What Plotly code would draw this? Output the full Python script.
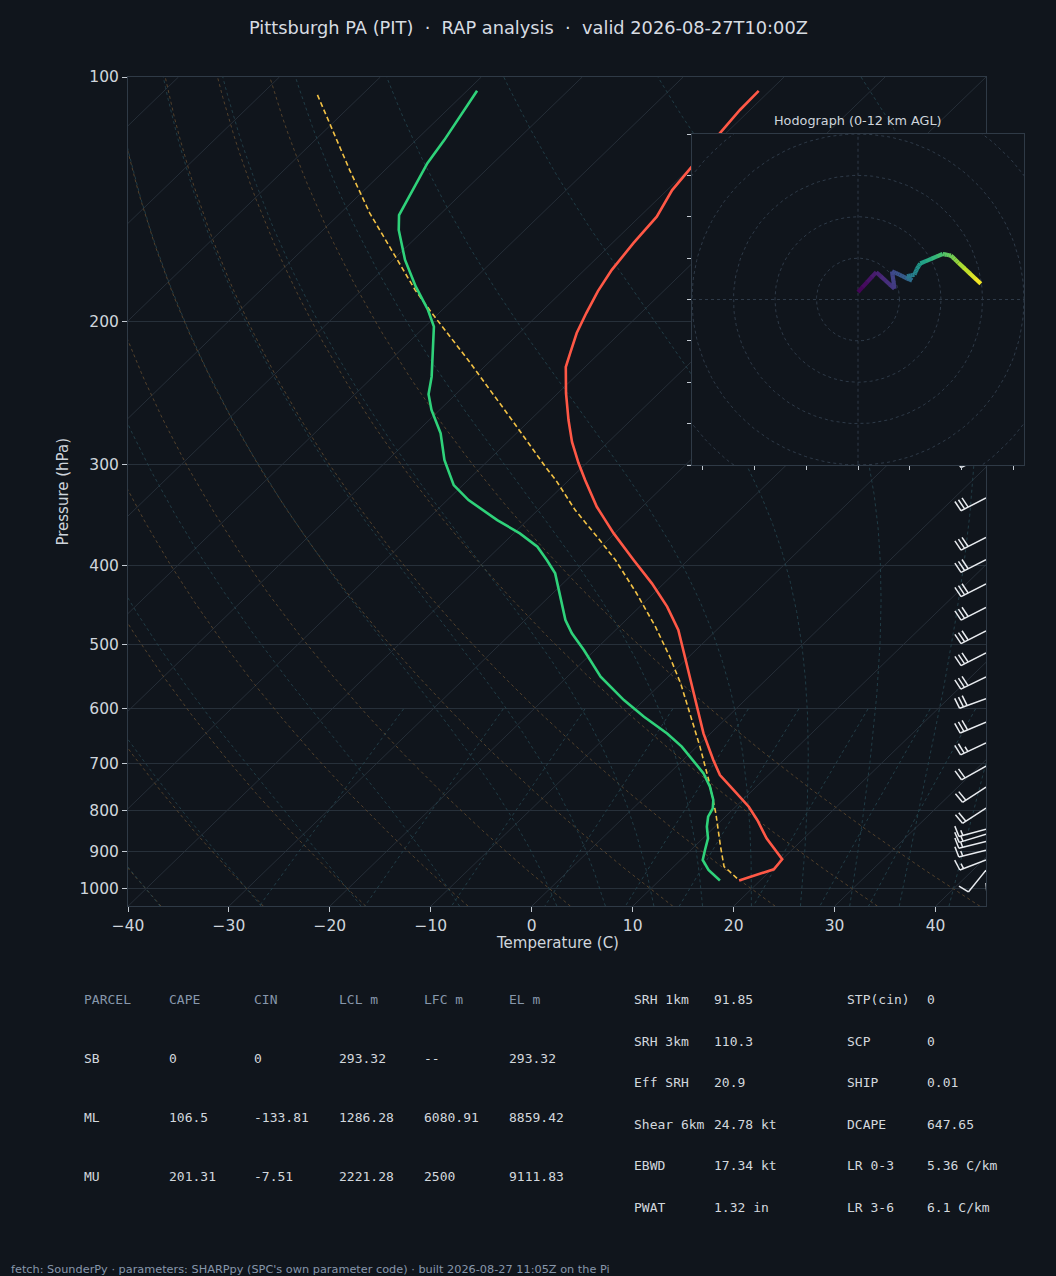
import numpy as np
import plotly.graph_objects as go
from plotly.colors import sample_colorscale

W, H = 1056, 1276
BG = "#10151c"
FONT = "DejaVu Sans"
MONO = "DejaVu Sans Mono"

TITLE = "Pittsburgh PA (PIT)  ·  RAP analysis  ·  valid 2026-08-27T10:00Z"
FOOTER = "fetch: SounderPy · parameters: SHARPpy (SPC's own parameter code) · built 2026-08-27 11:05Z on the Pi"

# ---------------- data ----------------
temp_p = [104.0, 109.8, 117.2, 129.0, 137.8, 148.6, 160.1, 172.8, 183.5, 195.3, 206.7, 218.7,
          227.6, 245.1, 264.5, 281.5, 298.8, 313.6, 325.4, 338.3, 351.3, 364.8, 393.4, 420.3,
          449.0, 479.7, 517.6, 574.1, 643.3, 693.7, 723.9, 755.3, 791.9, 822.3, 866.1, 919.2,
          945.6, 976.0]
temp_c = [-61.1, -61.0, -60.6, -60.0, -59.5, -58.3, -57.9, -57.3, -56.5, -55.4, -54.3, -52.9,
          -51.9, -49.2, -46.2, -43.6, -40.8, -38.4, -36.5, -34.5, -32.3, -30.1, -25.4, -21.2,
          -17.3, -13.8, -10.4, -5.8, -0.7, 3.0, 5.2, 8.1, 11.3, 13.5, 16.3, 20.0,
          20.2, 17.9]

dwpt_p = [104.0, 119.6, 127.7, 147.9, 154.3, 168.0, 181.2, 193.6, 203.0, 233.9, 245.9, 257.1,
          274.7, 296.2, 318.1, 331.9, 351.3, 364.8, 378.8, 393.4, 408.6, 436.5, 466.4, 484.3,
          507.8, 547.8, 585.3, 613.6, 643.3, 667.8, 693.7, 720.4, 748.2, 777.0, 795.5, 814.7,
          838.1, 866.1, 895.3, 921.1, 947.6, 976.0]
dwpt_c = [-89.0, -87.2, -86.5, -84.0, -82.5, -78.8, -75.0, -71.4, -69.1, -64.2, -62.7, -60.8,
          -57.5, -54.4, -50.9, -47.9, -43.0, -39.4, -36.3, -34.0, -31.8, -28.9, -26.0, -24.0,
          -21.1, -16.7, -12.0, -8.3, -4.3, -1.5, 1.0, 3.4, 5.4, 7.1, 7.9, 8.3,
          9.2, 10.5, 11.4, 12.2, 13.8, 16.0]

parcel_p = [105.2, 130.2, 147.1, 166.4, 183.0, 195.3, 223.1, 264.5, 302.0, 313.6, 341.5, 368.3,
            393.4, 432.3, 475.3, 517.6, 558.1, 607.8, 667.8, 734.2, 806.6, 886.9, 938.7, 952.2,
            976.0]
parcel_c = [-104.4, -93.5, -87.1, -80.1, -74.7, -70.7, -62.3, -51.8, -43.7, -41.3, -36.3, -31.4,
            -27.2, -21.7, -16.4, -11.9, -8.1, -4.1, 0.3, 4.6, 8.7, 12.6, 15.0, 16.1,
            17.9]

barb_p = [983, 948, 921, 896, 874, 856, 844, 795, 749, 706, 661, 623, 583, 548, 512, 481,
          450, 421, 393, 369, 330, 292]
barb_dir = [175, 219, 249, 256, 256, 253, 255, 237, 237, 241, 245, 247, 250, 244, 243, 243,
            243, 243, 243, 243, 243, 243]
barb_kt = [5, 10, 15, 15, 15, 15, 15, 20, 20, 20, 25, 30, 30, 30, 30, 30,
           30, 30, 30, 30, 30, 30]

hodo_u = [0.0, 4.4, 8.8, 8.2, 10.0, 12.4, 13.0, 11.8, 13.6, 14.2, 15.0, 20.4, 22.4, 24.2, 29.6]
hodo_v = [1.8, 6.6, 2.6, 6.8, 6.0, 4.8, 4.6, 5.6, 6.0, 7.4, 8.7, 11.0, 10.6, 8.9, 3.8]
hodo_km = [0.0, 1.0, 2.0, 2.6, 3.2, 4.0, 4.3, 4.7, 5.3, 6.0, 6.6, 8.6, 9.3, 10.2, 12.0]

x_ticks = [-40, -30, -20, -10, 0, 10, 20, 30, 40]
p_ticks = [100, 200, 300, 400, 500, 600, 700, 800, 900, 1000]

tbl1_head = ["PARCEL", "CAPE", "CIN", "LCL m", "LFC m", "EL m"]
tbl1_rows = [["SB", "0", "0", "293.32", "--", "293.32"],
             ["ML", "106.5", "-133.81", "1286.28", "6080.91", "8859.42"],
             ["MU", "201.31", "-7.51", "2221.28", "2500", "9111.83"]]
tbl2_lab = ["SRH 1km", "SRH 3km", "Eff SRH", "Shear 6km", "EBWD", "PWAT"]
tbl2_val = ["91.85", "110.3", "20.9", "24.78 kt", "17.34 kt", "1.32 in"]
tbl3_lab = ["STP(cin)", "SCP", "SHIP", "DCAPE", "LR 0-3", "LR 3-6"]
tbl3_val = ["0", "0", "0.01", "647.65", "5.36 C/km", "6.1 C/km"]

# ---------------- geometry ----------------
XMIN, XMAX = -40.0, 45.0
PBOT, PTOP = 1050.0, 100.0
LOGB, LOGT = np.log10(PBOT), np.log10(PTOP)
SKEW = XMAX - XMIN
AX_L, AX_R, AX_T, AX_B = 128, 986, 77, 906.2
HX_L, HX_R, HX_T, HX_B = 692, 1024, 134, 465
PXX = (AX_R - AX_L) / (XMAX - XMIN)
PXD = (AX_B - AX_T) / (LOGB - LOGT)


def ya(p):
    return (LOGB - np.log10(np.asarray(p, dtype=float))) / (LOGB - LOGT)


def sx(t, p):
    return np.asarray(t, dtype=float) + SKEW * ya(p)


fig = go.Figure()


def add_lines(xs, ys, color, width, dash="solid", xa="x", ya_="y", opacity=1.0):
    fig.add_trace(go.Scatter(x=xs, y=ys, mode="lines", xaxis=xa, yaxis=ya_,
                             line=dict(color=color, width=width, dash=dash),
                             opacity=opacity, hoverinfo="skip", showlegend=False))


# isotherms
xs, ys = [], []
for t in range(-140, 50, 10):
    pp = np.array([PBOT, PTOP])
    xs += list(sx([t, t], pp)) + [None]
    ys += list(pp) + [None]
add_lines(xs, ys, "#28313b", 0.9)

pl = np.linspace(PBOT, PTOP, 160)

# dry adiabats
xs, ys = [], []
for t0 in np.arange(XMIN, XMAX + 1, 10):
    tt = (t0 + 273.15) * (pl / 1000.0) ** 0.28571 - 273.15
    xs += list(sx(tt, pl)) + [None]
    ys += list(pl) + [None]
add_lines(xs, ys, "#5a462e", 0.9, "3px,3px")

# moist adiabats
Rd, Cp, Lv, EPS = 287.04749, 1004.6662, 2.50084e6, 0.6219569


def es(tk):
    return 6.112 * np.exp(17.67 * (tk - 273.15) / (tk - 29.65))


def dtdp(p, tk):
    e = es(tk)
    rs = EPS * e / (p - e)
    return (Rd * tk + Lv * rs) / (Cp + Lv * Lv * rs * EPS / (Rd * tk * tk)) / p


def moist(t0):
    def integ(p0, p1, n):
        ps = np.linspace(p0, p1, n)
        out = [t0 + 273.15]
        for i in range(n - 1):
            h = ps[i + 1] - ps[i]
            p, t = ps[i], out[-1]
            k1 = dtdp(p, t)
            k2 = dtdp(p + h / 2, t + h / 2 * k1)
            k3 = dtdp(p + h / 2, t + h / 2 * k2)
            k4 = dtdp(p + h, t + h * k3)
            out.append(t + h / 6 * (k1 + 2 * k2 + 2 * k3 + k4))
        return ps, np.array(out)
    pu, tu = integ(1000.0, PTOP, 300)
    pd, td = integ(1000.0, PBOT, 20)
    p = np.concatenate([pd[::-1], pu[1:]])
    t = np.concatenate([td[::-1], tu[1:]]) - 273.15
    return p, t


xs, ys = [], []
for t0 in list(np.arange(XMIN, 0, 10)) + list(np.arange(0, XMAX + 1, 5)):
    p, t = moist(t0)
    xs += list(sx(t, p)) + [None]
    ys += list(p) + [None]
add_lines(xs, ys, "#22414b", 0.9, "3px,3px")

# mixing ratio lines
xs, ys = [], []
pm = np.linspace(600, PBOT, 40)
for w in [0.0004, 0.001, 0.002, 0.004, 0.007, 0.01, 0.016, 0.024, 0.032]:
    e = pm * w / (EPS + w)
    lg = np.log(e / 6.112)
    td = 243.5 * lg / (17.67 - lg)
    xs += list(sx(td, pm)) + [None]
    ys += list(pm) + [None]
add_lines(xs, ys, "#24424c", 0.9, "3px,3px")

# profiles
add_lines(list(sx(parcel_c, parcel_p)), parcel_p, "#f3c245", 1.6, "5px,3px")
add_lines(list(sx(dwpt_c, dwpt_p)), dwpt_p, "#2fd27a", 2.6)
add_lines(list(sx(temp_c, temp_p)), temp_p, "#ff5846", 2.6)

# wind barbs (drawn at the right edge of the axes)
LEN, FLEN, SPC = 28.0, 11.0, 4.0
bx, by = [], []
for p, d, s in zip(barb_p, barb_dir, barb_kt):
    r = np.deg2rad(d)
    ux, uy = np.sin(r), np.cos(r)
    nx, ny = uy, -ux

    def to_data(ox, oy, p=p):
        return XMAX + ox / PXX, p * 10 ** (-oy / PXD)

    segs = [((0.0, 0.0), (LEN * ux, LEN * uy))]
    s5 = int(round(s / 5.0)) * 5
    nfull, half = s5 // 10, (s5 % 10) == 5
    pos = LEN
    for i in range(nfull):
        a = (pos * ux, pos * uy)
        b = (a[0] + FLEN * (nx + 0.12 * ux), a[1] + FLEN * (ny + 0.12 * uy))
        segs.append((a, b))
        pos -= SPC
    if half:
        if nfull == 0:
            pos -= SPC
        a = (pos * ux, pos * uy)
        b = (a[0] + 0.5 * FLEN * (nx + 0.12 * ux), a[1] + 0.5 * FLEN * (ny + 0.12 * uy))
        segs.append((a, b))
    for a, b in segs:
        xa_, ya1 = to_data(*a)
        xb_, yb1 = to_data(*b)
        bx += [xa_, xb_, None]
        by += [ya1, yb1, None]
add_lines(bx, by, "#e9ecf0", 1.5)

# ---------------- hodograph ----------------
th = np.linspace(0, 2 * np.pi, 200)
xs, ys = [], []
for rr in [10, 20, 30, 40, 50]:
    xs += list(rr * np.cos(th)) + [None]
    ys += list(rr * np.sin(th)) + [None]
add_lines(xs, ys, "#2e3a48", 1.0, "3px,3px", "x2", "y2")
add_lines([-60, 60, None, 0, 0], [0, 0, None, -60, 60], "#2e3a48", 1.0, "3px,3px", "x2", "y2")

hu, hv, hk = np.array(hodo_u), np.array(hodo_v), np.array(hodo_km)
for i in range(len(hu) - 1):
    nseg = 4
    for j in range(nseg):
        f0, f1 = j / nseg, (j + 1) / nseg
        u0 = hu[i] + (hu[i + 1] - hu[i]) * f0
        u1 = hu[i] + (hu[i + 1] - hu[i]) * min(f1 + 0.02, 1.0)
        v0 = hv[i] + (hv[i + 1] - hv[i]) * f0
        v1 = hv[i] + (hv[i + 1] - hv[i]) * min(f1 + 0.02, 1.0)
        km = hk[i] + (hk[i + 1] - hk[i]) * (f0 + f1) / 2
        col = sample_colorscale("Viridis", [km / 12.0])[0]
        add_lines([u0, u1], [v0, v1], col, 4.2, "solid", "x2", "y2")

# ---------------- layout ----------------
TICKF = dict(family=FONT, size=15.5, color="#cfd5dc")
FRAME = "#2f3a46"
fig.update_layout(
    width=W, height=H, margin=dict(l=0, r=0, t=0, b=0, pad=0), autosize=False,
    paper_bgcolor=BG, plot_bgcolor=BG, showlegend=False,
    xaxis=dict(domain=[AX_L / W, AX_R / W], range=[XMIN, XMAX], anchor="y", automargin=False,
               tickvals=x_ticks, ticktext=[str(v).replace("-", "\u2212") for v in x_ticks],
               showgrid=False, zeroline=False, showline=True, linecolor=FRAME, linewidth=1,
               mirror=True, ticks="outside", ticklen=5, tickcolor="#c3cad2", tickfont=TICKF),
    yaxis=dict(domain=[1 - AX_B / H, 1 - AX_T / H], type="log", range=[LOGB, LOGT], anchor="x",
               automargin=False, tickvals=p_ticks, ticktext=[str(v) for v in p_ticks],
               showgrid=True, gridcolor="#27303a", gridwidth=1, zeroline=False,
               showline=True, linecolor=FRAME, linewidth=1, mirror=True,
               ticks="outside", ticklen=5, tickcolor="#c3cad2", tickfont=TICKF),
    xaxis2=dict(domain=[HX_L / W, HX_R / W], range=[-40, 40], anchor="y2", automargin=False,
                tickvals=[-37.5, -25, -12.5, 0, 12.5, 25, 37.5], showticklabels=False,
                showgrid=False, zeroline=False, showline=True, linecolor=FRAME, mirror=True,
                ticks="outside", ticklen=4, tickcolor="#c3cad2"),
    yaxis2=dict(domain=[1 - HX_B / H, 1 - HX_T / H], range=[-40, 40], anchor="x2", automargin=False,
                tickvals=[-40, -30, -20, -10, 0, 10, 20, 30, 40], showticklabels=False,
                showgrid=False, zeroline=False, showline=True, linecolor=FRAME, mirror=True,
                ticks="outside", ticklen=4, tickcolor="#c3cad2"),
)

ann = []


def text(s, px, py, size, color, family=FONT, xanchor="left", angle=0):
    if xanchor == "left":
        px -= 2
    ann.append(dict(text=s, x=px / W, y=1 - py / H, xref="paper", yref="paper",
                    xanchor=xanchor, yanchor="middle", showarrow=False, textangle=angle,
                    font=dict(family=family, size=size, color=color)))


text(TITLE, W / 2, 27, 17.8, "#d7dce2", xanchor="center")
text("Temperature (C)", (AX_L + AX_R) / 2, 943, 15, "#cfd5dc", xanchor="center")
text("Pressure (hPa)", 63, (AX_T + AX_B) / 2, 15, "#cfd5dc", xanchor="center", angle=-90)
text("Hodograph (0-12 km AGL)", (HX_L + HX_R) / 2, 120, 12.8, "#cfd5dc", xanchor="center")

cols1 = [84, 169, 254, 339, 424, 509]
rows1 = [999, 1058, 1117, 1176]
for c, h in zip(cols1, tbl1_head):
    text(h, c, rows1[0], 13, "#8797ab", MONO)
for r, row in zip(rows1[1:], tbl1_rows):
    for c, v in zip(cols1, row):
        text(v, c, r, 13, "#d3d8de", MONO)

rows2 = [999, 1041, 1082, 1124, 1165, 1207]
for r, a, b, c, d in zip(rows2, tbl2_lab, tbl2_val, tbl3_lab, tbl3_val):
    text(a, 634, r, 13, "#d3d8de", MONO)
    text(b, 714, r, 13, "#d3d8de", MONO)
    text(c, 847, r, 13, "#d3d8de", MONO)
    text(d, 927, r, 13, "#d3d8de", MONO)

text(FOOTER, 11, 1269, 11.3, "#8797ab")
fig.update_layout(annotations=ann)

fig.write_html("out.html", config={"displayModeBar": False},
               post_script="document.body.style.margin='0';document.body.style.padding='0';"
                           "document.body.style.background='#10151c';"
                           "document.documentElement.style.overflow='hidden';")
